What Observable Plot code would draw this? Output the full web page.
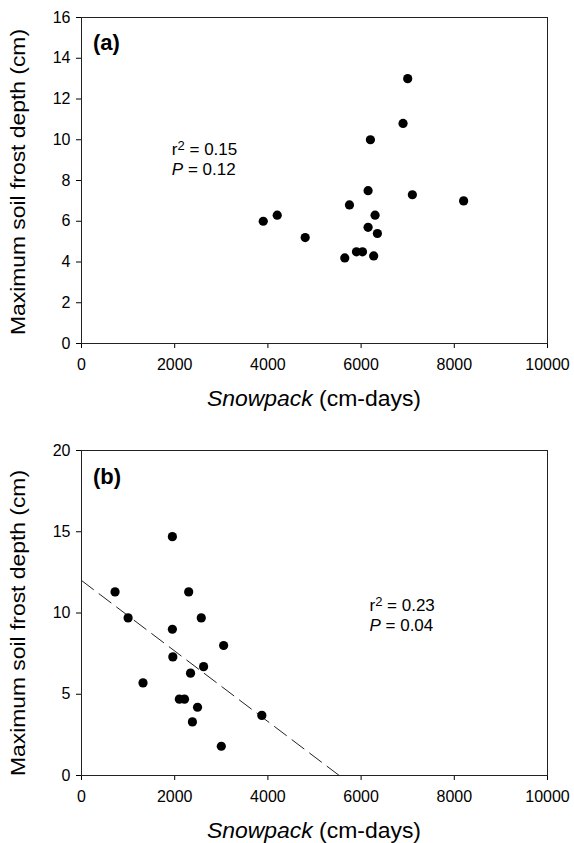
<!DOCTYPE html>
<html><head><meta charset="utf-8">
<script src="https://cdn.jsdelivr.net/npm/d3@7"></script>
<script src="https://cdn.jsdelivr.net/npm/@observablehq/plot@0.6"></script>
<style>
html,body{margin:0;padding:0;background:#fff;overflow:hidden;}
#chart{width:574px;height:843px;}
#chart svg{display:block;}
</style></head><body><div id="chart"></div>
<script>
// Panel (a)
const snowA  = [7000, 6900, 6200, 6150, 7100, 8200, 5750, 6300, 4200, 3900, 6150, 6350, 4800, 5900, 6030, 6270, 5650];
const frostA = [13.0, 10.8, 10.0, 7.5, 7.3, 7.0, 6.8, 6.3, 6.3, 6.0, 5.7, 5.4, 5.2, 4.5, 4.5, 4.3, 4.2];
// Panel (b)
const snowB  = [1950, 720, 2300, 1000, 2570, 1950, 3050, 1960, 2620, 2340, 1320, 2100, 2210, 2490, 3870, 2380, 3000];
const frostB = [14.7, 11.3, 11.3, 9.7, 9.7, 9.0, 8.0, 7.3, 6.7, 6.3, 5.7, 4.7, 4.7, 4.2, 3.7, 3.3, 1.8];
// Regression line in (b)
const fitSnowB  = [0, 5530];
const fitFrostB = [12, 0];
// Ticks
const xTicks  = [0, 2000, 4000, 6000, 8000, 10000];
const yTicksA = [0, 2, 4, 6, 8, 10, 12, 14, 16];
const yTicksB = [0, 5, 10, 15, 20];
// Texts
const panelLabels = ["(a)", "(b)"];
const r2Values = ["0.15", "0.23"];
const pValues  = ["0.12", "0.04"];
const xTitleItalic = "Snowpack";
const xTitleRest = " (cm-days)";
const yTitle = "Maximum soil frost depth (cm)";

const FONT = "'Liberation Sans', Arial, Helvetica, sans-serif";

function panel(o) {
  const n = o.snow.length;
  const marks = [
    Plot.axisX({ticks: xTicks, tickSize: 5, tickPadding: 10, tickFormat: d => String(d), label: null}),
    Plot.axisY({ticks: o.yTicks, tickSize: 5, tickPadding: 6, tickFormat: d => String(d), label: null}),
    Plot.frame({stroke: "#222", strokeWidth: 1})
  ];
  if (o.fitX) {
    marks.push(Plot.line(d3.range(o.fitX.length), {
      x: i => o.fitX[i], y: i => o.fitY[i],
      stroke: "#222", strokeWidth: 1, strokeDasharray: "15,7"
    }));
  }
  marks.push(Plot.dot(d3.range(n), {x: i => o.snow[i], y: i => o.frost[i], r: 4.6, fill: "black", stroke: "none"}));
  const svg = Plot.plot({
    width: 574, height: o.height,
    marginTop: o.marginTop, marginBottom: o.marginBottom, marginLeft: 81, marginRight: 27,
    style: {fontFamily: FONT, fontSize: "16px", color: "black", background: "white", overflow: "visible"},
    x: {domain: [0, 10000]},
    y: {domain: o.yDomain},
    marks
  });
  const sx = plotScale(svg, "x"), sy = plotScale(svg, "y");
  const g = d3.select(svg).append("g").attr("font-family", FONT).attr("fill", "black").attr("text-anchor", "start");
  // x title
  const xt = g.append("text").attr("x", 314).attr("y", o.xTitleY).attr("text-anchor", "middle")
    .attr("font-size", 22).attr("textLength", 214).attr("lengthAdjust", "spacingAndGlyphs");
  xt.append("tspan").attr("font-style", "italic").text(xTitleItalic);
  xt.append("tspan").text(xTitleRest);
  // y title
  g.append("text").attr("transform", `translate(25,${o.yTitleCY}) rotate(-90)`).attr("text-anchor", "middle")
    .attr("font-size", 21).attr("textLength", 306).attr("lengthAdjust", "spacingAndGlyphs").text(yTitle);
  // panel label
  g.append("text").attr("x", 93).attr("y", o.labelY).attr("font-size", 22).attr("font-weight", "bold").text(o.label);
  // stats
  const ax = sx(o.statsAt[0]), ay = sy(o.statsAt[1]);
  const t1 = g.append("text").attr("x", ax).attr("y", ay).attr("font-size", 17);
  t1.append("tspan").text("r");
  t1.append("tspan").attr("font-size", 13).attr("dy", -5).text("2");
  t1.append("tspan").attr("dy", 5).text(" = " + o.r2);
  const t2 = g.append("text").attr("x", ax).attr("y", ay + 20).attr("font-size", 17);
  t2.append("tspan").attr("font-style", "italic").text("P");
  t2.append("tspan").text(" = " + o.p);
  return svg;
}

function plotScale(svg, name) {
  const s = svg.scale(name);
  return d3.scaleLinear(s.domain, s.range);
}

const chart = document.getElementById("chart");
chart.appendChild(panel({
  snow: snowA, frost: frostA, yDomain: [0, 16], yTicks: yTicksA,
  height: 420, marginTop: 17, marginBottom: 77,
  xTitleY: 406, yTitleCY: 182, labelY: 50, label: panelLabels[0],
  r2: r2Values[0], p: pValues[0], statsAt: [1950, 9.23]
}));
chart.appendChild(panel({
  snow: snowB, frost: frostB, yDomain: [0, 20], yTicks: yTicksB,
  fitX: fitSnowB, fitY: fitFrostB,
  height: 423, marginTop: 30, marginBottom: 68,
  xTitleY: 418, yTitleCY: 203, labelY: 64, label: panelLabels[1],
  r2: r2Values[1], p: pValues[1], statsAt: [6190, 10.1]
}));
</script>
</body></html>
